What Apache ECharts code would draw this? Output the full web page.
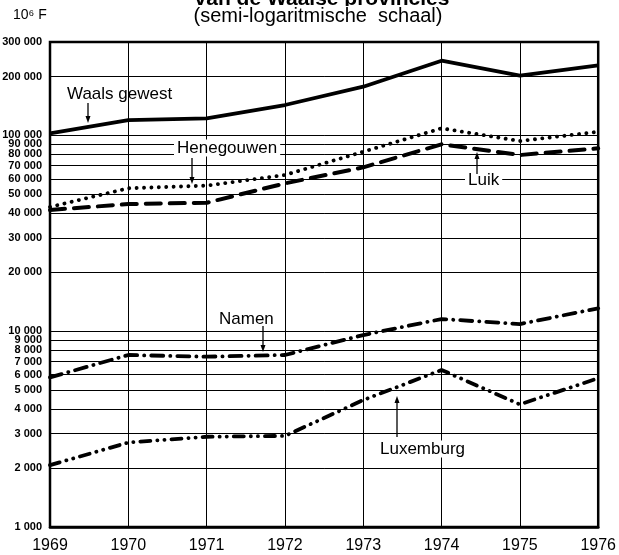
<!DOCTYPE html>
<html>
<head>
<meta charset="utf-8">
<script src="https://cdn.jsdelivr.net/npm/echarts@6/dist/echarts.min.js"></script>
<style>
  html, body { margin: 0; padding: 0; background: #fff; }
  #chart { width: 619px; height: 555px; }
</style>
</head>
<body>
<div id="chart"></div>
<script>
// jaren
var years = ['1969', '1970', '1971', '1972', '1973', '1974', '1975', '1976'];
// in 10^6 F
var waals = [102500, 119800, 122300, 143000, 177300, 240700, 201800, 228000];
var henegouwen = [43100, 53700, 55400, 62800, 82500, 108700, 93600, 104400];
var luik = [41600, 44600, 45300, 56900, 68700, 90100, 79400, 85900];
var namen = [5810, 7560, 7410, 7560, 9560, 11540, 10880, 13090];
var luxemburg = [2070, 2700, 2890, 2920, 4450, 6340, 4230, 5750];
// lijnen van de semi-logaritmische schaal
var yTicks = [1000, 2000, 3000, 4000, 5000, 6000, 7000, 8000, 9000,
    10000, 20000, 30000, 40000, 50000, 60000, 70000, 80000, 90000,
    100000, 200000, 300000];

var font = '"Liberation Sans", Arial, sans-serif';

function fmt(v) {
    return String(v).replace(/\B(?=(\d{3})+(?!\d))/g, ' ');
}

var chart = echarts.init(document.getElementById('chart'));

function arrow(x, y1, y2) {
    // pijltje van y1 naar y2
    var d = y2 > y1 ? -1 : 1;
    return [{
        type: 'line',
        shape: { x1: x, y1: y1, x2: x, y2: y2 + d * 4 },
        style: { stroke: '#000', lineWidth: 1.3 },
        z: 100
    }, {
        type: 'polygon',
        shape: { points: [[x - 2.5, y2 + d * 7], [x + 2.5, y2 + d * 7], [x, y2]] },
        style: { fill: '#000' },
        z: 100
    }];
}

function label(text, x, y, bg) {
    return {
        type: 'text',
        x: x, y: y,
        style: {
            text: text,
            font: '17px ' + font,
            fill: '#000',
            textVerticalAlign: 'middle',
            backgroundColor: bg ? '#fff' : null,
            padding: bg ? [0, 3, 0, 3] : 0
        },
        z: 100
    };
}

var graphics = [
    {
        type: 'text', x: 322, y: 10,
        style: {
            text: 'van de Waalse provincies', font: 'bold 21px ' + font, fill: '#000',
            textAlign: 'center', textVerticalAlign: 'bottom'
        }
    },
    {
        type: 'text', x: 318, y: 16,
        style: {
            text: '(semi-logaritmische  schaal)', font: '20px ' + font, fill: '#000',
            textAlign: 'center', textVerticalAlign: 'middle',
            backgroundColor: '#fff'
        }
    },
    {
        type: 'text', x: 13, y: 8,
        style: { text: '10\u2076 F', font: '14px ' + font, fill: '#000' }
    },
    label('Waals gewest', 67, 94, false),
    label('Henegouwen', 174, 148, true),
    label('Luik', 465, 180, true),
    label('Namen', 219, 319, false),
    label('Luxemburg', 377, 449, true)
].concat(arrow(88, 103, 123))
 .concat(arrow(192, 158, 184))
 .concat(arrow(477, 174, 152))
 .concat(arrow(263, 326, 352))
 .concat(arrow(397, 437, 396));

var option = {
    backgroundColor: '#fff',
    animation: false,
    grid: {
        left: 50, right: 19, top: 42, bottom: 28,
        show: true,
        borderColor: '#000',
        borderWidth: 2.5
    },
    xAxis: {
        type: 'category',
        data: years,
        boundaryGap: false,
        axisLine: { lineStyle: { color: '#000', width: 2.5 } },
        axisTick: { show: false },
        splitLine: { show: true, lineStyle: { color: '#000', width: 1 } },
        axisLabel: {
            color: '#000', fontSize: 16, fontFamily: font, margin: 11,
            showMinLabel: true, showMaxLabel: true
        }
    },
    yAxis: {
        type: 'log',
        logBase: 10,
        min: 1000,
        max: 300000,
        axisLine: { show: false },
        axisTick: { show: false },
        axisLabel: { show: false },
        splitLine: { show: false }
    },
    graphic: graphics,
    series: [
        {
            name: 'Waals gewest', type: 'line', data: waals,
            symbol: 'none', z: 5,
            lineStyle: { color: '#000', width: 3.8 },
            markLine: {
                silent: true,
                symbol: 'none',
                animation: false,
                lineStyle: { color: '#000', width: 1, type: 'solid' },
                label: {
                    position: 'start',
                    distance: 8,
                    color: '#000',
                    fontSize: 11,
                    fontFamily: '"Liberation Sans Narrow", "Liberation Sans", sans-serif',
                    fontWeight: 'bold',
                    formatter: function(p) { return fmt(p.value); }
                },
                data: yTicks.map(function(v) { return { yAxis: v }; })
            }
        },
        {
            name: 'Henegouwen', type: 'line', data: henegouwen,
            symbol: 'none', z: 5,
            lineStyle: { color: '#000', width: 3.8, type: [0.1, 7.3], cap: 'round' }
        },
        {
            name: 'Luik', type: 'line', data: luik,
            symbol: 'none', z: 5,
            lineStyle: { color: '#000', width: 4, type: [15, 9], cap: 'round' }
        },
        {
            name: 'Namen', type: 'line', data: namen,
            symbol: 'none', z: 5,
            lineStyle: { color: '#000', width: 3.8, type: [12, 7, 0.1, 7], cap: 'round' }
        },
        {
            name: 'Luxemburg', type: 'line', data: luxemburg,
            symbol: 'none', z: 5,
            lineStyle: { color: '#000', width: 3.8, type: [10, 7, 0.1, 7, 0.1, 7], cap: 'round' }
        }
    ]
};

chart.setOption(option);
</script>
</body>
</html>
